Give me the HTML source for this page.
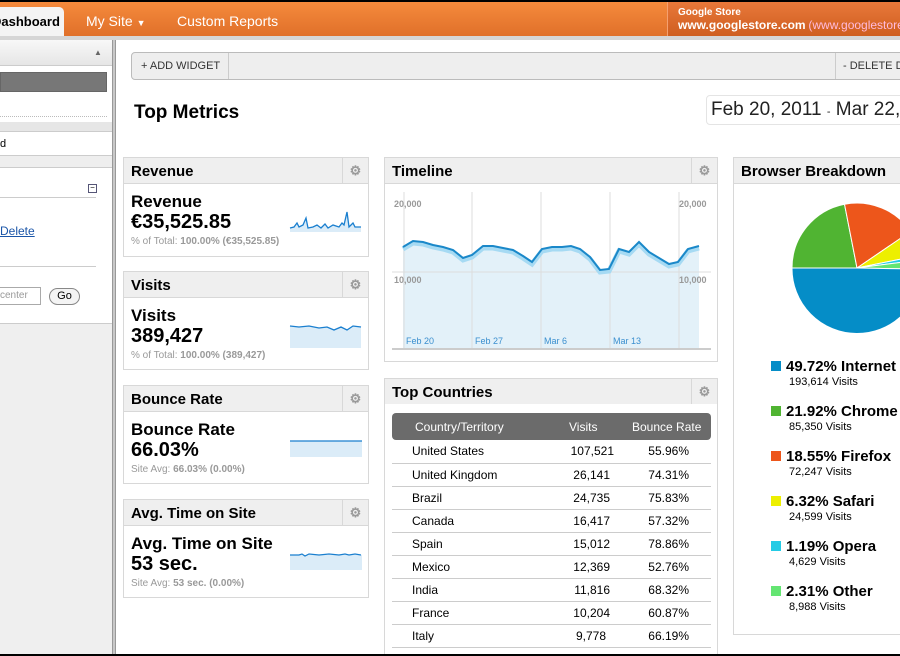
<!DOCTYPE html>
<html><head><meta charset="utf-8"><style>
*{margin:0;padding:0;box-sizing:border-box}
html,body{width:900px;height:656px;overflow:hidden}
body{position:relative;background:#fff;font-family:"Liberation Sans",Arial,sans-serif;color:#000}
#w{position:absolute;left:0;top:0;width:900px;height:656px;overflow:hidden}
.a{position:absolute}
.hd{position:absolute;background:#efefef;border:1px solid #d8d8d8;font-weight:bold;font-size:15px;padding:5px 7px;height:27px}
.gear{position:absolute;top:0;right:0;width:26px;height:25px;border-left:1px solid #d8d8d8;color:#999;font-size:13px;text-align:center;line-height:25px}
.bd{position:absolute;border:1px solid #d8d8d8;border-top:none;background:#fff}
.t1{position:absolute;left:7px;font-weight:bold;font-size:17px}
.t2{position:absolute;left:7px;font-weight:bold;font-size:20px}
.t3{position:absolute;left:7px;font-size:10px;color:#999}
.t3 b{color:#999}
table{border-collapse:collapse;font-size:12px}
td{height:23px;border-bottom:1px solid #ccc}
.lg{position:absolute;left:771px;font-size:15px;font-weight:bold}
.lg i{position:absolute;left:0;top:3px;width:10px;height:10px}
.lg span{position:absolute;left:15px;top:0;white-space:nowrap}
.lg small{position:absolute;left:18px;top:18px;font-size:11px;font-weight:normal;white-space:nowrap}
</style></head><body><div id="w">
<div class="a" style="left:0;top:0;width:900px;height:2px;background:#000"></div>
<div class="a" style="left:0;top:2px;width:900px;height:34px;background:linear-gradient(#f58a3c,#e0702a)"></div>
<div class="a" style="left:0;top:7px;width:64px;height:29px;background:#f4f4f4;border-radius:0 5px 0 0;font-weight:bold;font-size:13px;line-height:29px;white-space:nowrap;overflow:hidden"><span style="margin-left:-8px">Dashboard</span></div>
<div class="a" style="left:86px;top:13px;color:#fff;font-size:14px">My Site <span style="font-size:9px">▼</span></div>
<div class="a" style="left:177px;top:13px;color:#fff;font-size:14px">Custom Reports</div>
<div class="a" style="left:667px;top:2px;width:233px;height:34px;background:linear-gradient(#e8783a,#cf5e20);border-left:1px solid #f5a070;color:#fff;padding:5px 0 0 10px;white-space:nowrap;overflow:hidden;font-size:10px;line-height:12px;font-weight:bold">Google Store<br><span style="font-size:12px">www.googlestore.com</span> <span style="font-weight:normal;font-size:12px;color:#fbd">(www.googlestore</span></div>
<div class="a" style="left:0;top:36px;width:900px;height:4px;background:#d6d6d6"></div>
<div class="a" style="left:0;top:40px;width:112px;height:616px;background:#efefef"></div>
<div class="a" style="left:0;top:40px;width:112px;height:283px;background:#fff"></div>
<div class="a" style="left:0;top:40px;width:112px;height:26px;background:linear-gradient(#f8f8f8,#e6e6e6);border-bottom:1px solid #ccc"></div>
<div class="a" style="left:94px;top:48px;font-size:8px;color:#666">▲</div>
<div class="a" style="left:0;top:72px;width:107px;height:20px;background:#777;border:1px solid #666"></div>
<div class="a" style="left:0;top:116px;width:107px;border-top:1px dotted #bbb"></div>
<div class="a" style="left:0;top:122px;width:112px;height:10px;background:#e6e6e6;border-bottom:1px solid #ccc"></div>
<div class="a" style="left:0;top:138px;font-size:11px">d</div>
<div class="a" style="left:0;top:155px;width:112px;height:13px;background:#eee;border-top:1px solid #ccc;border-bottom:1px solid #ccc"></div>
<div class="a" style="left:88px;top:184px;width:9px;height:9px;border:1px solid #557;font-size:8px;line-height:6px;text-align:center">−</div>
<div class="a" style="left:0;top:197px;width:96px;border-top:1px solid #ccc"></div>
<div class="a" style="left:0;top:224px;font-size:12px;color:#1a55a8;text-decoration:underline">Delete</div>
<div class="a" style="left:0;top:266px;width:96px;border-top:1px solid #ccc"></div>
<div class="a" style="left:-2px;top:287px;width:43px;height:18px;border:1px solid #aaa;font-size:10px;color:#999;padding:2px 0 0 1px">center</div>
<div class="a" style="left:49px;top:288px;width:31px;height:17px;border:1px solid #888;border-radius:9px;font-size:11px;text-align:center;line-height:15px;background:#f4f4f4">Go</div>
<div class="a" style="left:0;top:323px;width:112px;border-top:1px solid #ccc"></div>
<div class="a" style="left:112px;top:40px;width:4px;height:616px;background:#c8c8c8;border-left:1px solid #999;border-right:1px solid #999"></div>
<div class="a" style="left:131px;top:52px;width:780px;height:28px;background:#eee;border:1px solid #bbb;border-radius:4px"></div>
<div class="a" style="left:141px;top:60px;font-size:11px;color:#333">+ ADD WIDGET</div>
<div class="a" style="left:228px;top:53px;height:26px;border-left:1px solid #ccc"></div>
<div class="a" style="left:835px;top:53px;height:26px;border-left:1px solid #ccc"></div>
<div class="a" style="left:843px;top:60px;font-size:11px;color:#333;white-space:nowrap">- DELETE D</div>
<div class="a" style="left:134px;top:102px;font-size:19px;font-weight:bold">Top Metrics</div>
<div class="a" style="left:706px;top:95px;width:220px;height:30px;border:1px solid #e4e4e4;border-radius:4px;font-size:19px;color:#222;padding:3px 0 0 4px;white-space:nowrap">Feb 20, 2011 <span style="font-size:11px">-</span> Mar 22,</div>
<div class="hd" style="left:123px;top:157px;width:246px">Revenue<div class="gear">⚙</div></div>
<div class="bd" style="left:123px;top:184px;width:246px;height:73px">
<div class="t1" style="top:8px">Revenue</div><div class="t2" style="top:27px">€35,525.85</div><div class="t3" style="top:52px">% of Total: <b>100.00% (€35,525.85)</b></div>
<svg class="a" style="left:165px;top:24px" width="74" height="24"><polyline fill="#dbecf8" stroke="none" points="1,20 5,19 8,15 10,19 14,17 17,10 19,20 24,19 28,17 32,20 36,16 39,20 44,17 47,18 50,19 53,15 55,17 58,4 60,19 64,15 66,19 72,19 72,24 1,24"/><polyline fill="none" stroke="#1a7fcf" stroke-width="1.3" points="1,20 5,19 8,15 10,19 14,17 17,10 19,20 24,19 28,17 32,20 36,16 39,20 44,17 47,18 50,19 53,15 55,17 58,4 60,19 64,15 66,19 72,19"/></svg></div>
<div class="hd" style="left:123px;top:271px;width:246px">Visits<div class="gear">⚙</div></div>
<div class="bd" style="left:123px;top:298px;width:246px;height:72px">
<div class="t1" style="top:8px">Visits</div><div class="t2" style="top:27px">389,427</div><div class="t3" style="top:52px">% of Total: <b>100.00% (389,427)</b></div>
<svg class="a" style="left:165px;top:24px" width="74" height="26"><path fill="#dbecf8" d="M1,4 L10,5 20,4 30,6 38,5 45,8 52,5 58,8 64,4 72,5 72,26 1,26Z"/><polyline fill="none" stroke="#1a7fcf" stroke-width="1.3" points="1,4 10,5 20,4 30,6 38,5 45,8 52,5 58,8 64,4 72,5"/></svg></div>
<div class="hd" style="left:123px;top:385px;width:246px">Bounce Rate<div class="gear">⚙</div></div>
<div class="bd" style="left:123px;top:412px;width:246px;height:72px">
<div class="t1" style="top:8px">Bounce Rate</div><div class="t2" style="top:27px">66.03%</div><div class="t3" style="top:52px">Site Avg: <b>66.03% (0.00%)</b></div>
<svg class="a" style="left:165px;top:27px" width="74" height="18"><rect x="1" y="2" width="72" height="16" fill="#dbecf8"/><line x1="1" y1="2" x2="73" y2="2" stroke="#1a7fcf" stroke-width="1.3"/></svg></div>
<div class="hd" style="left:123px;top:499px;width:246px">Avg. Time on Site<div class="gear">⚙</div></div>
<div class="bd" style="left:123px;top:526px;width:246px;height:72px">
<div class="t1" style="top:8px">Avg. Time on Site</div><div class="t2" style="top:27px">53 sec.</div><div class="t3" style="top:52px">Site Avg: <b>53 sec. (0.00%)</b></div>
<svg class="a" style="left:165px;top:24px" width="74" height="20"><rect x="1" y="5" width="72" height="15" fill="#dbecf8"/><polyline fill="none" stroke="#1a7fcf" stroke-width="1.2" points="1,5 10,5 13,4 16,6 20,4 30,5 40,4 50,5 56,4 60,5 66,4 72,5"/></svg></div>
<div class="hd" style="left:384px;top:157px;width:334px">Timeline<div class="gear">⚙</div></div>
<div class="bd" style="left:384px;top:184px;width:334px;height:178px"></div>
<svg class="a" style="left:384px;top:184px" width="334" height="178">
<g transform="translate(-384,-184)">
<polygon fill="#e3f1f9" points="403,247 413,241 423,242 433,245 443,247 453,250 463,258 472,255 483,246 493,246 503,248 513,250 523,256 532,262 542,249 552,247 562,247 571,246 580,249 590,257 600,270 609,269 619,249 629,252 639,242 649,252 659,258 669,264 678,262 688,249 699,246 699,349 403,349"/>
<g stroke="#ddd" stroke-width="1"><line x1="404" y1="192" x2="404" y2="349"/><line x1="472" y1="192" x2="472" y2="349"/><line x1="541" y1="192" x2="541" y2="349"/><line x1="610" y1="192" x2="610" y2="349"/><line x1="679" y1="192" x2="679" y2="349"/><line x1="392" y1="272" x2="711" y2="272"/></g>
<line x1="392" y1="349" x2="711" y2="349" stroke="#ccc" stroke-width="2"/>
<polyline fill="none" stroke="#a6daf3" stroke-width="5" transform="translate(0,2)" points="403,247 413,241 423,242 433,245 443,247 453,250 463,258 472,255 483,246 493,246 503,248 513,250 523,256 532,262 542,249 552,247 562,247 571,246 580,249 590,257 600,270 609,269 619,249 629,252 639,242 649,252 659,258 669,264 678,262 688,249 699,246"/>
<polyline fill="none" stroke="#1a88c9" stroke-width="2" points="403,247 413,241 423,242 433,245 443,247 453,250 463,258 472,255 483,246 493,246 503,248 513,250 523,256 532,262 542,249 552,247 562,247 571,246 580,249 590,257 600,270 609,269 619,249 629,252 639,242 649,252 659,258 669,264 678,262 688,249 699,246"/>
<g font-size="9" font-weight="bold" fill="#999" font-family="Liberation Sans,Arial,sans-serif"><text x="394" y="207">20,000</text><text x="679" y="207">20,000</text><text x="394" y="283">10,000</text><text x="679" y="283">10,000</text></g>
<g font-size="9" fill="#3a8fcf" font-family="Liberation Sans,Arial,sans-serif"><text x="406" y="344">Feb 20</text><text x="475" y="344">Feb 27</text><text x="544" y="344">Mar 6</text><text x="613" y="344">Mar 13</text></g>
</g></svg>
<div class="hd" style="left:384px;top:378px;width:334px">Top Countries<div class="gear">⚙</div></div>
<div class="bd" style="left:384px;top:404px;width:334px;height:260px"></div>
<div class="a" style="left:392px;top:413px;width:319px;height:27px;background:#6b6b6b;border-radius:4px;color:#fff;font-size:12px">
<span class="a" style="left:23px;top:7px">Country/Territory</span><span class="a" style="left:177px;top:7px">Visits</span><span class="a" style="left:240px;top:7px">Bounce Rate</span></div>
<table class="a" style="left:392px;top:440px;width:319px">
<tr><td style="padding-left:20px">United States</td><td style="text-align:right;width:100px;padding-right:2px">107,521</td><td style="text-align:right;width:95px;padding-right:22px">55.96%</td></tr>
<tr><td style="padding-left:20px">United Kingdom</td><td style="text-align:right;padding-right:6px">26,141</td><td style="text-align:right;padding-right:22px">74.31%</td></tr>
<tr><td style="padding-left:20px">Brazil</td><td style="text-align:right;padding-right:6px">24,735</td><td style="text-align:right;padding-right:22px">75.83%</td></tr>
<tr><td style="padding-left:20px">Canada</td><td style="text-align:right;padding-right:6px">16,417</td><td style="text-align:right;padding-right:22px">57.32%</td></tr>
<tr><td style="padding-left:20px">Spain</td><td style="text-align:right;padding-right:6px">15,012</td><td style="text-align:right;padding-right:22px">78.86%</td></tr>
<tr><td style="padding-left:20px">Mexico</td><td style="text-align:right;padding-right:6px">12,369</td><td style="text-align:right;padding-right:22px">52.76%</td></tr>
<tr><td style="padding-left:20px">India</td><td style="text-align:right;padding-right:6px">11,816</td><td style="text-align:right;padding-right:22px">68.32%</td></tr>
<tr><td style="padding-left:20px">France</td><td style="text-align:right;padding-right:6px">10,204</td><td style="text-align:right;padding-right:22px">60.87%</td></tr>
<tr><td style="padding-left:20px">Italy</td><td style="text-align:right;padding-right:10px">9,778</td><td style="text-align:right;padding-right:22px">66.19%</td></tr>
<tr><td style="padding-left:20px">Thailand</td><td style="text-align:right;padding-right:10px">9,115</td><td style="text-align:right;padding-right:22px">76.52%</td></tr>
</table>
<div class="hd" style="left:733px;top:157px;width:180px">Browser Breakdown</div>
<div class="bd" style="left:733px;top:184px;width:180px;height:451px"></div>
<svg class="a" style="left:733px;top:184px" width="167" height="160"><g transform="translate(-733,-184)" stroke="#fff" stroke-width="1">
<path fill="#50b432" d="M857,268 L792,268 A65,65 0 0 1 844.5,204.2Z"/>
<path fill="#ed561b" d="M857,268 L844.5,204.2 A65,65 0 0 1 910.7,231.4Z"/>
<path fill="#edef00" d="M857,268 L910.7,231.4 A65,65 0 0 1 920.7,255Z"/>
<path fill="#24cbe5" d="M857,268 L920.7,255 A65,65 0 0 1 921.5,259.8Z"/>
<path fill="#64e572" d="M857,268 L921.5,259.8 A65,65 0 0 1 922,269.2Z"/>
<path fill="#058dc7" d="M857,268 L922,269.2 A65,65 0 0 1 792,268Z"/>
</g></svg>
<div class="lg" style="top:358px"><i style="background:#058dc7"></i><span>49.72% Internet Explorer</span><small>193,614 Visits</small></div>
<div class="lg" style="top:403px"><i style="background:#50b432"></i><span>21.92% Chrome</span><small>85,350 Visits</small></div>
<div class="lg" style="top:448px"><i style="background:#ed561b"></i><span>18.55% Firefox</span><small>72,247 Visits</small></div>
<div class="lg" style="top:493px"><i style="background:#edef00"></i><span>6.32% Safari</span><small>24,599 Visits</small></div>
<div class="lg" style="top:538px"><i style="background:#24cbe5"></i><span>1.19% Opera</span><small>4,629 Visits</small></div>
<div class="lg" style="top:583px"><i style="background:#64e572"></i><span>2.31% Other</span><small>8,988 Visits</small></div>
<div class="a" style="left:0;top:654px;width:900px;height:2px;background:#000"></div>
</div></body></html>
